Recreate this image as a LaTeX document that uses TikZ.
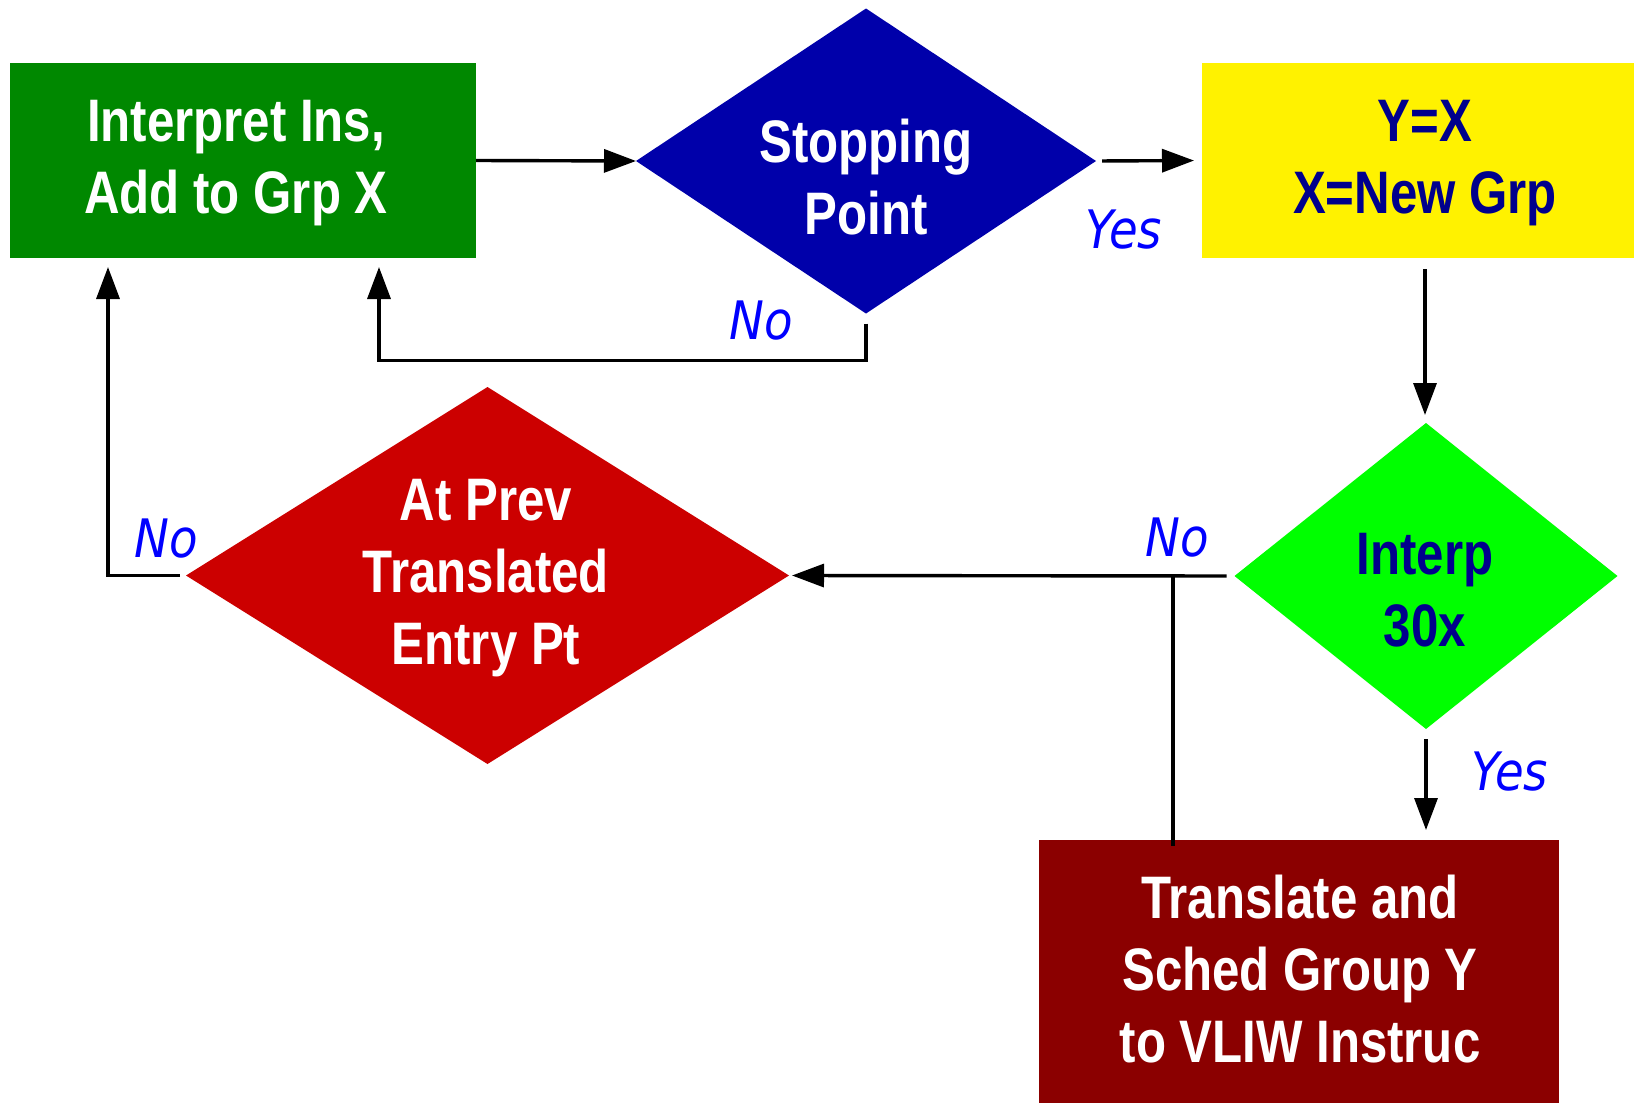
\documentclass[tikz,border=0pt]{standalone}
\usepackage{fontspec}
\usetikzlibrary{shapes.geometric,arrows.meta,calc}

\newfontfamily\boxfont[FakeStretch=0.82]{Liberation Sans}
\newfontfamily\answerfont[FakeStretch=0.88]{DejaVu Sans}

\definecolor{grpgreen}{RGB}{0,136,0}
\definecolor{stopblue}{RGB}{0,0,170}
\definecolor{hotgreen}{RGB}{0,255,0}
\definecolor{prevred}{RGB}{204,0,0}
\definecolor{transred}{RGB}{139,0,0}
\definecolor{navytext}{RGB}{0,0,140}
\definecolor{answerblue}{RGB}{0,0,255}

\tikzset{
	flow box/.style={rectangle, inner sep=0pt, outer sep=0pt},
	flow test/.style={diamond, inner sep=0pt, outer sep=0pt},
	box text/.style={font=\boxfont\bfseries\fontsize{30pt}{36pt}\selectfont, align=center, inner sep=0pt, text depth=0pt},
	answer/.style={font=\answerfont\itshape\fontsize{26.5pt}{30pt}\selectfont, text=answerblue, inner sep=0pt, text depth=0pt},
	flow line/.style={line width=1.7pt},
	flow arrow/.style={flow line, -{Triangle[length=16pt,width=11.5pt]}}
}

\begin{document}
\begin{tikzpicture}[x=0.5pt, y=-0.5pt]
	\useasboundingbox (0,0) rectangle (1634,1103);
	% boxes and tests
	\node [flow box, fill=grpgreen, minimum width=233pt, minimum height=97.5pt] (interp) at (243,160.5) {};
	\node [flow test, fill=stopblue, minimum width=230pt, minimum height=152.5pt] (stop) at (866,161) {};
	\node [flow box, fill=yellow, minimum width=223pt, minimum height=97.5pt] (swap) at (1425,160.5) {};
	\node [flow test, fill=hotgreen, minimum width=191.5pt, minimum height=153pt] (hot) at (1426,576) {};
	\node [flow test, fill=prevred, minimum width=301.5pt, minimum height=188.5pt] (prev) at (487.5,575.5) {};
	\node [flow box, fill=transred, minimum width=260pt, minimum height=135pt] (trans) at (1299,975) {};
	% texts
	\node [box text, text=white] (interp-t) at (236,156.5) {Interpret Ins,\\Add to Grp X};
	\node [box text, text=white] (stop-t) at (866,176.5) {Stopping\\Point};
	\node [box text, text=navytext] (swap-t) at (1425,157) {Y=X\\X=New Grp};
	\node [box text, text=navytext] (hot-t) at (1425,590) {Interp\\30x};
	\node [box text, text=white] (prev-t) at (486,572) {At Prev\\Translated\\Entry Pt};
	\node [box text, text=white] (trans-t) at (1300,969) {Translate and\\Sched Group Y\\to VLIW Instruc};
	% connectors
	\draw [flow arrow] (interp.east) -- (stop.west);
	\draw [flow arrow, shorten <=3pt, shorten >=4pt] (stop.east) -- (swap.west);
	\draw [flow arrow] (stop.south) ++(0,10) -- ++(0,37) -| ($(interp.south)+(136,9)$);
	\draw [flow arrow, shorten <=5.5pt, shorten >=4pt] (swap.south) -- (swap.south |- hot.north);
	\draw [flow arrow, shorten <=4pt, shorten >=1.5pt] (hot.west) -- (prev.east);
	\coordinate (fork) at ($(hot.west)+(-61.5,0)$);
	\draw [flow line] ($(fork |- trans.north)+(0,6)$) -- (fork);
	\draw [flow arrow, shorten <=5pt, shorten >=5pt] (hot.south) -- (hot.south |- trans.north);
	\draw [flow arrow] (prev.west) ++(-6,0) -| ($(interp.south)+(-135,9)$);
	% yes / no
	\node [answer] (stop-yes) at (1124,229) {Yes};
	\node [answer] (stop-no) at (761,320) {No};
	\node [answer] (hot-no) at (1177,537) {No};
	\node [answer] (hot-yes) at (1510,771) {Yes};
	\node [answer] (prev-no) at (166,538) {No};
\end{tikzpicture}
\end{document}
